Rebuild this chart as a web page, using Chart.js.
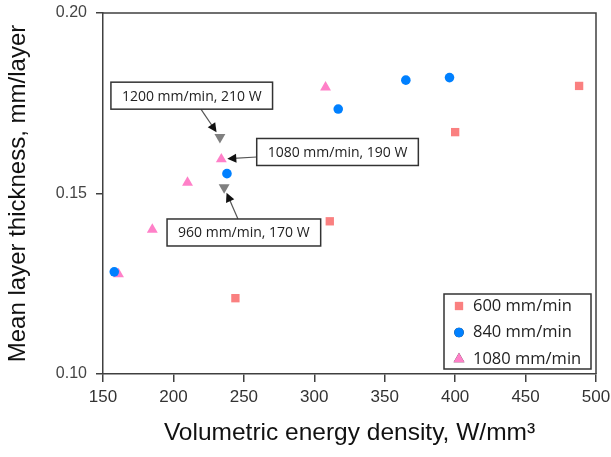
<!DOCTYPE html>
<html>
<head>
<meta charset="utf-8">
<script src="https://cdn.jsdelivr.net/npm/chart.js@4.4.1/dist/chart.umd.min.js"></script>
<style>
  html, body { margin: 0; padding: 0; background: #fff; }
  #wrap { width: 611px; height: 457px; position: relative; }
</style>
</head>
<body>
<div id="wrap"><canvas id="chart"></canvas></div>
<script>
/* Espessura média de camada x densidade volumétrica de energia */

const X_TICKS = [150, 200, 250, 300, 350, 400, 450, 500];
const Y_TICKS = [0.10, 0.15, 0.20];

const SERIES_NAMES = ['600 mm/min', '840 mm/min', '1080 mm/min'];

const s600_x = [244, 311, 400, 488];
const s600_y = [0.121, 0.1423, 0.167, 0.1798];

const s840_x = [158, 238, 317, 365, 396];
const s840_y = [0.1283, 0.1555, 0.1734, 0.1814, 0.1821];

const s1080_x = [161, 185, 210, 234, 308];
const s1080_y = [0.1277, 0.140, 0.153, 0.1595, 0.1794];

// pontos extras (sem legenda)
const extra_x = [233, 236];
const extra_y = [0.1656, 0.1517];

// anotações: texto, ponto alvo
const NOTE_TEXT = ['1200 mm/min, 210 W', '1080 mm/min, 190 W', '960 mm/min, 170 W'];
const NOTE_TARGET_X = [233, 234, 236];
const NOTE_TARGET_Y = [0.1656, 0.1595, 0.1517];
const NOTE_BOX_X = [213, 316.5, 250];
const NOTE_BOX_Y = [0.1771, 0.1615, 0.1392];

const toPts = (xs, ys) => xs.map((x, i) => ({ x: x, y: ys[i] }));

const RED = 'rgb(250,128,128)';
const BLUE = 'rgb(0,128,255)';
const PINK = 'rgb(255,128,200)';
const GRAY = 'rgb(128,128,128)';
const AXIS = '#404040';
const NOTE_FONT = '"Open Sans", sans-serif';

const frame = {
  id: 'frame',
  afterDraw(chart) {
    const { ctx, chartArea: a } = chart;
    ctx.save();
    ctx.strokeStyle = AXIS;
    ctx.lineWidth = 1.5;
    ctx.beginPath();
    ctx.moveTo(a.left, a.top);
    ctx.lineTo(a.right, a.top);
    ctx.lineTo(a.right, a.bottom);
    ctx.stroke();
    ctx.restore();
  }
};

const notes = {
  id: 'notes',
  afterDatasetsDraw(chart) {
    const { ctx, scales } = chart;
    ctx.save();
    ctx.font = '14px ' + NOTE_FONT;
    NOTE_TEXT.forEach((txt, i) => {
      const cx = scales.x.getPixelForValue(NOTE_BOX_X[i]);
      const cy = scales.y.getPixelForValue(NOTE_BOX_Y[i]);
      const tx = scales.x.getPixelForValue(NOTE_TARGET_X[i]);
      const ty = scales.y.getPixelForValue(NOTE_TARGET_Y[i]);
      const w = ctx.measureText(txt).width + 22;
      const h = 27;
      const l = cx - w / 2, t = cy - h / 2;

      // ponto de saída da seta na borda da caixa
      const dx = tx - cx, dy = ty - cy;
      let k = Infinity;
      if (dx !== 0) k = Math.min(k, (w / 2) / Math.abs(dx));
      if (dy !== 0) k = Math.min(k, (h / 2) / Math.abs(dy));
      const sx = cx + dx * k, sy = cy + dy * k;
      const len = Math.hypot(tx - sx, ty - sy);
      const ux = (tx - sx) / len, uy = (ty - sy) / len;
      const ex = tx - ux * 6, ey = ty - uy * 6;

      ctx.strokeStyle = '#555';
      ctx.lineWidth = 1.2;
      ctx.beginPath();
      ctx.moveTo(sx, sy);
      ctx.lineTo(ex - ux * 6, ey - uy * 6);
      ctx.stroke();
      // ponta
      ctx.fillStyle = '#111';
      ctx.beginPath();
      ctx.moveTo(ex, ey);
      ctx.lineTo(ex - ux * 9 - uy * 4.5, ey - uy * 9 + ux * 4.5);
      ctx.lineTo(ex - ux * 9 + uy * 4.5, ey - uy * 9 - ux * 4.5);
      ctx.closePath();
      ctx.fill();

      ctx.fillStyle = '#fff';
      ctx.fillRect(l, t, w, h);
      ctx.strokeStyle = '#333';
      ctx.lineWidth = 1.5;
      ctx.strokeRect(l, t, w, h);
      ctx.fillStyle = '#222';
      ctx.textAlign = 'center';
      ctx.textBaseline = 'middle';
      ctx.fillText(txt, cx, cy + 1);
    });
    ctx.restore();
  }
};

const boxLegend = {
  id: 'boxLegend',
  afterDraw(chart) {
    const { ctx, chartArea: a } = chart;
    const w = 147, h = 75;
    const l = a.right - 5 - w, t = a.bottom - 5 - h;
    ctx.save();
    ctx.fillStyle = '#fff';
    ctx.fillRect(l, t, w, h);
    ctx.strokeStyle = '#333';
    ctx.lineWidth = 1.5;
    ctx.strokeRect(l, t, w, h);
    ctx.font = '16.5px ' + NOTE_FONT;
    ctx.textBaseline = 'middle';
    SERIES_NAMES.forEach((name, i) => {
      const ds = chart.data.datasets[i];
      const y = t + 12 + i * 26.5;
      Chart.helpers.drawPoint(ctx, {
        pointStyle: ds.pointStyle,
        radius: ds.pointRadius,
        rotation: 0,
        borderWidth: 0
      }, l + 15, y);
      ctx.fillStyle = ds.backgroundColor;
      ctx.fill();
      ctx.fillStyle = '#222';
      ctx.fillText(name, l + 29, y);
    });
    ctx.restore();
  }
};

new Chart(document.getElementById('chart'), {
  type: 'scatter',
  data: {
    datasets: [
      { label: SERIES_NAMES[0], data: toPts(s600_x, s600_y), pointStyle: 'rect', pointRadius: 5.9,
        backgroundColor: RED, borderColor: RED, borderWidth: 0 },
      { label: SERIES_NAMES[1], data: toPts(s840_x, s840_y), pointStyle: 'circle', pointRadius: 4.8,
        backgroundColor: BLUE, borderColor: BLUE, borderWidth: 0 },
      { label: SERIES_NAMES[2], data: toPts(s1080_x, s1080_y), pointStyle: 'triangle', pointRadius: 6.3,
        backgroundColor: PINK, borderColor: PINK, borderWidth: 0 },
      { label: 'extra', data: toPts(extra_x, extra_y), pointStyle: 'triangle', rotation: 180, pointRadius: 6.3,
        backgroundColor: GRAY, borderColor: GRAY, borderWidth: 0 }
    ]
  },
  options: {
    responsive: true,
    maintainAspectRatio: false,
    animation: false,
    layout: { padding: { top: 13, right: 15, left: 0, bottom: 0 } },
    plugins: {
      legend: { display: false },
      tooltip: { enabled: false }
    },
    scales: {
      x: {
        type: 'linear',
        min: X_TICKS[0],
        max: X_TICKS[X_TICKS.length - 1],
        afterBuildTicks: (s) => { s.ticks = X_TICKS.map(v => ({ value: v })); },
        afterFit: (s) => { s.height = 83; s.paddingRight = 0; s.paddingLeft = 0; },
        border: { display: true, color: AXIS, width: 1.5 },
        grid: { drawOnChartArea: false, drawTicks: true, tickLength: 8, color: AXIS, lineWidth: 1.5 },
        ticks: {
          color: '#333',
          padding: 5,
          maxRotation: 0,
          font: { family: '"Liberation Sans", Arial, sans-serif', size: 17 }
        },
        title: {
          display: true,
          text: 'Volumetric energy density, W/mm³',
          color: '#111',
          padding: { top: 10, bottom: 9 },
          font: { family: '"Liberation Sans", Arial, sans-serif', size: 24.5 }
        }
      },
      y: {
        type: 'linear',
        min: Y_TICKS[0],
        max: Y_TICKS[Y_TICKS.length - 1],
        afterBuildTicks: (s) => { s.ticks = Y_TICKS.map(v => ({ value: v })); },
        afterFit: (s) => { s.width = 103; s.paddingTop = 0; s.paddingBottom = 0; },
        border: { display: true, color: AXIS, width: 1.5 },
        grid: { drawOnChartArea: false, drawTicks: true, tickLength: 7, color: AXIS, lineWidth: 1.5 },
        ticks: {
          color: '#444',
          padding: 9,
          callback: (v) => v.toFixed(2),
          font: { family: '"Liberation Sans", Arial, sans-serif', size: 16 }
        },
        title: {
          display: true,
          text: 'Mean layer thickness, mm/layer',
          color: '#111',
          padding: { top: 4, bottom: 0 },
          font: { family: '"Liberation Sans", Arial, sans-serif', size: 24 }
        }
      }
    }
  },
  plugins: [frame, notes, boxLegend]
});
</script>
</body>
</html>
